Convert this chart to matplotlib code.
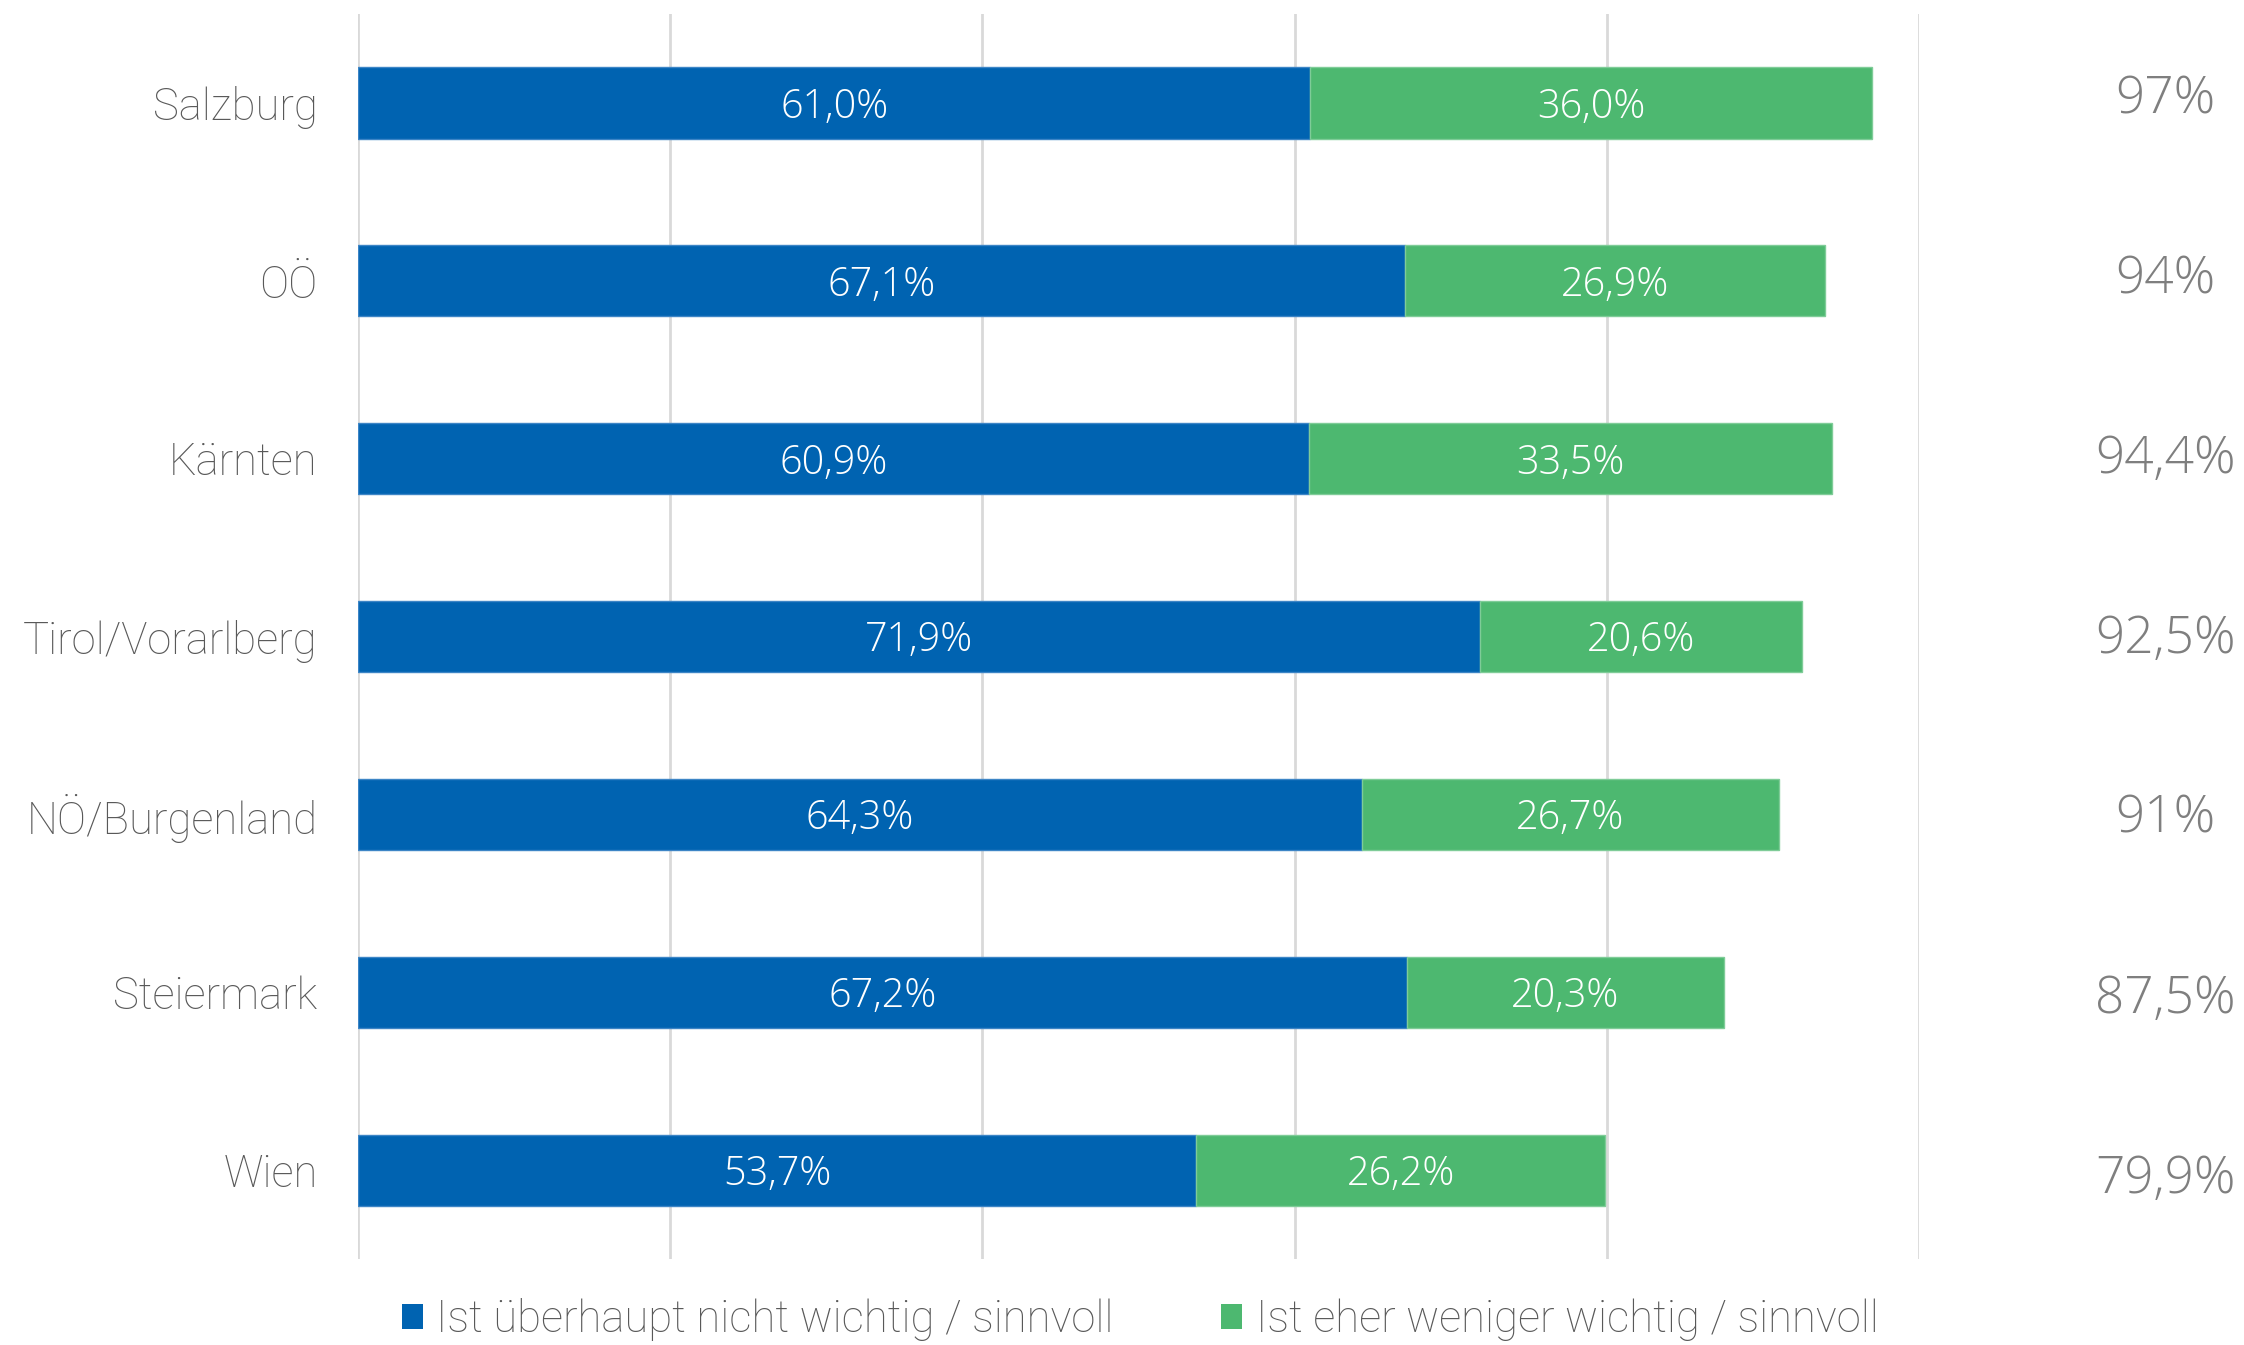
import numpy as np
import matplotlib
matplotlib.use("Agg")
from matplotlib import pyplot as plt
from matplotlib.patches import Patch

regions = ["Salzburg", "OÖ", "Kärnten", "Tirol/Vorarlberg", "NÖ/Burgenland", "Steiermark", "Wien"]
not_important = [61.0, 67.1, 60.9, 71.9, 64.3, 67.2, 53.7]
less_important = [36.0, 26.9, 33.5, 20.6, 26.7, 20.3, 26.2]
totals = ["97%", "94%", "94,4%", "92,5%", "91%", "87,5%", "79,9%"]
series_names = ["Ist überhaupt nicht wichtig / sinnvoll", "Ist eher weniger wichtig / sinnvoll"]

blue = "#0063B1"
green = "#4DB870"
label_grey = "#595959"
total_grey = "#7F7F7F"

plt.rcParams['font.family'] = ['Roboto', 'DejaVu Sans']
num_font = ["Open Sans", "DejaVu Sans"]

def fmt(v):
    return f"{v:.1f}%".replace(".", ",")

fig = plt.figure(figsize=(22.44, 13.45), dpi=100)
ax = fig.add_axes([358 / 2244, 1 - 1259 / 1345, (1919 - 358) / 2244, (1259 - 14) / 1345])

y = np.arange(len(regions))
ax.barh(y, not_important, height=0.4, color=blue, edgecolor="#3D85C6", linewidth=1, zorder=3)
ax.barh(y, less_important, left=not_important, height=0.4, color=green, edgecolor="#7FCC98", linewidth=1, zorder=3)

# value labels inside the segments
for i in range(len(regions)):
    a = not_important[i]
    b = less_important[i]
    ax.text(a / 2, y[i] + 0.025, fmt(a), ha="center", va="center", color="white",
            fontsize=28.5, fontweight="light", family=num_font, zorder=4)
    ax.text(a + b / 2, y[i] + 0.025, fmt(b), ha="center", va="center", color="white",
            fontsize=28.5, fontweight="light", family=num_font, zorder=4)

# totals on the right, outside the plot area
total_y = np.linspace(-0.02, 6.05, len(totals))
for ty, t in zip(total_y, totals):
    ax.text(115.8, ty, t, ha="center", va="center", color=total_grey, fontsize=37,
            fontweight="light", family=num_font, clip_on=False)

ax.set_xlim(0, 100)
ax.set_ylim(len(regions) - 0.5, -0.5)
ax.set_xticks([0, 20, 40, 60, 80, 100])
ax.set_xticklabels([])
ax.set_yticks(y)
ax.set_yticklabels(regions, fontsize=31.4, fontweight="light", color=label_grey)
ax.tick_params(axis="both", length=0)
ax.tick_params(axis="y", pad=29)
ax.grid(True, axis="x", color="#D9D9D9", linewidth=2, zorder=0)
for s in ax.spines.values():
    s.set_visible(False)

handles = [Patch(facecolor=blue), Patch(facecolor=green)]
leg = fig.legend(handles, series_names, loc="center", bbox_to_anchor=(0.508, 0.019), ncol=2,
                 frameon=False, fontsize=31.4, handlelength=0.5, handleheight=0.5,
                 handletextpad=0.3, columnspacing=2.45)
for t in leg.get_texts():
    t.set_color(label_grey)
    t.set_fontweight("light")

plt.savefig("out.png", dpi=100)
plt.close()
